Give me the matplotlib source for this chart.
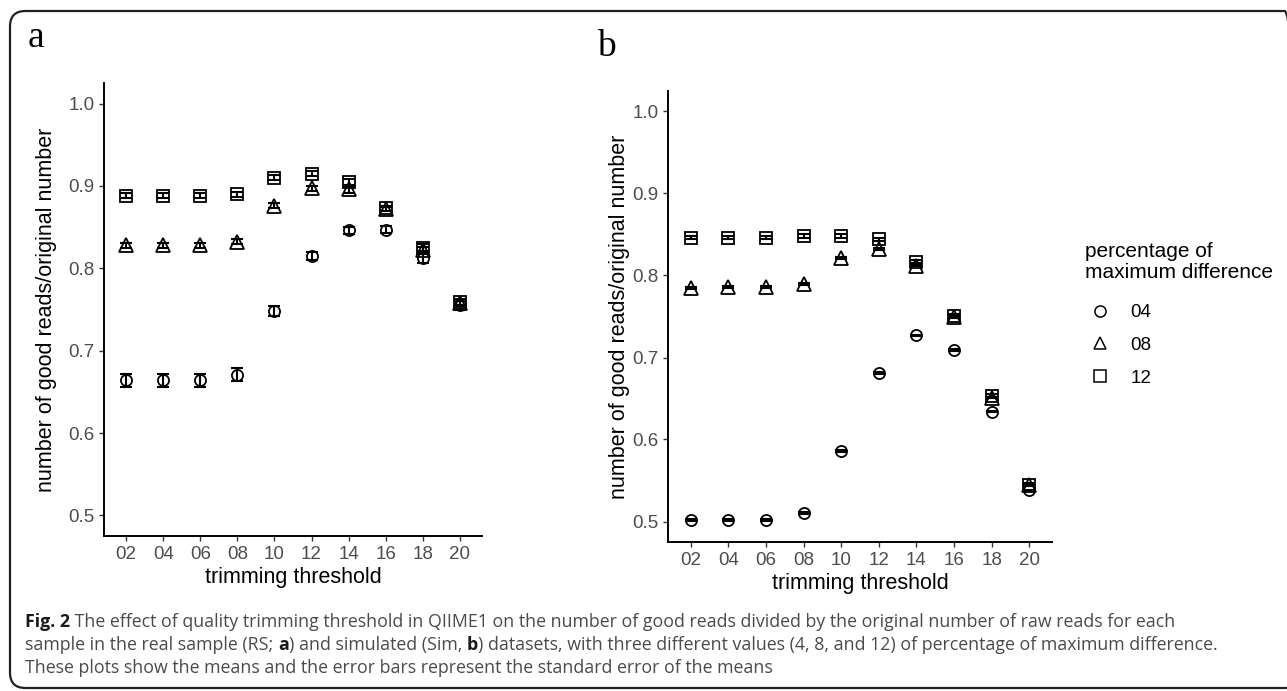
import matplotlib
matplotlib.use("Agg")
import matplotlib.pyplot as plt
from matplotlib.lines import Line2D
from matplotlib.patches import FancyBboxPatch
import numpy as np

# ---------------- data ----------------
thresholds = ["02", "04", "06", "08", "10", "12", "14", "16", "18", "20"]
groups = ["04", "08", "12"]

# panel a (RS)
a_04 = [0.664, 0.664, 0.664, 0.671, 0.748, 0.815, 0.846, 0.847, 0.812, 0.755]
a_08 = [0.828, 0.828, 0.828, 0.832, 0.876, 0.897, 0.896, 0.872, 0.822, 0.758]
a_12 = [0.888, 0.888, 0.888, 0.890, 0.910, 0.915, 0.905, 0.873, 0.825, 0.759]
a_04_se = [0.008, 0.008, 0.008, 0.008, 0.006, 0.005, 0.004, 0.004, 0.005, 0.005]
a_08_se = [0.003, 0.003, 0.003, 0.003, 0.003, 0.003, 0.004, 0.003, 0.004, 0.004]
a_12_se = [0.003, 0.003, 0.003, 0.003, 0.003, 0.003, 0.004, 0.003, 0.004, 0.004]

# panel b (Sim)
b_04 = [0.502, 0.502, 0.502, 0.510, 0.586, 0.681, 0.727, 0.709, 0.634, 0.538]
b_08 = [0.785, 0.786, 0.786, 0.790, 0.821, 0.832, 0.812, 0.749, 0.651, 0.544]
b_12 = [0.846, 0.846, 0.846, 0.848, 0.848, 0.844, 0.817, 0.751, 0.653, 0.545]
b_04_se = [0.001] * 10
b_08_se = [0.001] * 10
b_12_se = [0.002] * 10

y_ticks = [0.5, 0.6, 0.7, 0.8, 0.9, 1.0]
y_tick_labels = ["0.5", "0.6", "0.7", "0.8", "0.9", "1.0"]

x_label = "trimming threshold"
y_label = "number of good reads/original number"
legend_title = "percentage of\nmaximum difference"
markers = ["o", "^", "s"]

# ---------------- layout ----------------
W, H = 1287, 691
fig = plt.figure(figsize=(W / 100, H / 100), dpi=100)
fig.patch.set_facecolor("white")

def fx(px):
    return px / W

def fy(py):
    return 1 - py / H

plt.rcParams["font.family"] = ["Liberation Sans", "DejaVu Sans"]

# outer rounded frame
frame = FancyBboxPatch((fx(10), fy(688)), fx(1300) - fx(10), fy(11) - fy(688),
                       boxstyle="round,pad=0,rounding_size=0.012",
                       transform=fig.transFigure, fill=False, edgecolor="#222222",
                       linewidth=1.6, mutation_aspect=W / H)
fig.patches.append(frame)

ax_a = fig.add_axes([fx(104), fy(536), fx(482) - fx(104), fy(83) - fy(536)])
ax_b = fig.add_axes([fx(668), fy(542), fx(1052) - fx(668), fy(91) - fy(542)])

def draw_panel(ax, series, errs, ylabelpad):
    x = np.arange(1, len(thresholds) + 1)
    for vals, se, m in zip(series, errs, markers):
        ax.errorbar(x, vals, yerr=se, fmt="none", ecolor="black",
                    elinewidth=1.5, capsize=4, capthick=1.5, zorder=2)
        ax.plot(x, vals, linestyle="none", marker=m, markersize=8 if m != "^" else 9.5,
                markerfacecolor="none", markeredgecolor="black",
                markeredgewidth=1.3, zorder=3)
    ax.set_xlim(0.4, len(thresholds) + 0.6)
    ax.set_ylim(0.475, 1.025)
    ax.set_xticks(x)
    ax.set_xticklabels(thresholds)
    ax.set_yticks(y_ticks)
    ax.set_yticklabels(y_tick_labels)
    for s in ["top", "right"]:
        ax.spines[s].set_visible(False)
    for s in ["left", "bottom"]:
        ax.spines[s].set_linewidth(1.4)
        ax.spines[s].set_color("black")
    ax.tick_params(axis="both", length=3.5, width=1.0, color="#333333",
                   labelsize=13.5, labelcolor="#4D4D4D", pad=3.5)
    ax.set_xlabel(x_label, fontsize=15.5, color="black", labelpad=3)
    ax.set_ylabel(y_label, fontsize=15.5, color="black", labelpad=ylabelpad)
    ax.set_facecolor("white")

draw_panel(ax_a, [a_04, a_08, a_12], [a_04_se, a_08_se, a_12_se], 8)
draw_panel(ax_b, [b_04, b_08, b_12], [b_04_se, b_08_se, b_12_se], 1.5)

# panel letters
fig.text(fx(28), fy(47), "a", fontsize=27, family=["Liberation Serif", "DejaVu Serif"],
         va="baseline", ha="left")
fig.text(fx(597), fy(56), "b", fontsize=27, family=["Liberation Serif", "DejaVu Serif"],
         va="baseline", ha="left")

# legend (title drawn as text, entries as legend)
fig.text(fx(1085), fy(262), legend_title, fontsize=15, ha="left", va="center",
         linespacing=1.1)
handles = [Line2D([0], [0], linestyle="none", marker=m, markersize=8,
                  markerfacecolor="none", markeredgecolor="black", markeredgewidth=1.1)
           for m in markers]
leg = fig.legend(handles, groups, loc="upper left",
                 bbox_to_anchor=(fx(1089), fy(304)), frameon=False,
                 fontsize=13.5, handlelength=1.2, borderpad=0.0, borderaxespad=0.0,
                 handletextpad=1.0, labelspacing=0.84)

# caption
fig.canvas.draw()
renderer = fig.canvas.get_renderer()
cap_family = ["Open Sans", "DejaVu Sans"]
lines = [
    [("Fig. 2", "bold"), (" The effect of quality trimming threshold in QIIME1 on the number of good reads divided by the original number of raw reads for each", "normal")],
    [("sample in the real sample (RS; ", "normal"), ("a", "bold"), (") and simulated (Sim, ", "normal"), ("b", "bold"),
     (") datasets, with three different values (4, 8, and 12) of percentage of maximum difference.", "normal")],
    [("These plots show the means and the error bars represent the standard error of the means", "normal")],
]
line_base = [627, 650, 673]
cap_x0 = 25

def seg_width(txt, weight, size):
    t = fig.text(0, 0, txt, fontsize=size, fontweight=weight, family=cap_family)
    w = t.get_window_extent(renderer).width
    t.remove()
    return w

base = 10
w2 = sum(seg_width(t, wt, base) for t, wt in lines[1])
cap_size = base * (1215 - cap_x0) / w2

for segs, yy in zip(lines, line_base):
    xcur = cap_x0
    for txt, wt in segs:
        col = "#1a1a1a" if wt == "bold" else "#4a4a4a"
        t = fig.text(fx(xcur), fy(yy), txt, fontsize=cap_size, fontweight=wt,
                     family=cap_family, color=col, va="baseline", ha="left")
        xcur += t.get_window_extent(renderer).width

fig.savefig("out.png", dpi=100, facecolor="white")
